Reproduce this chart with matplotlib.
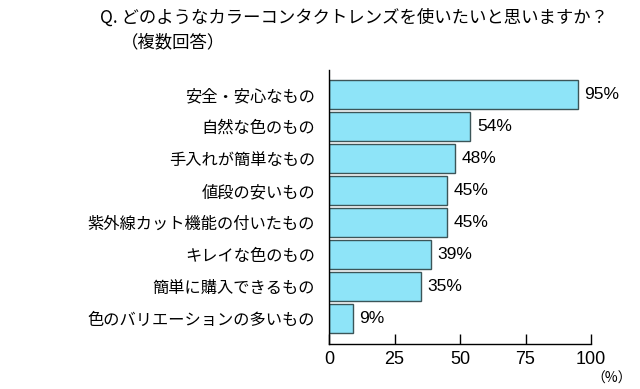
import matplotlib
matplotlib.use("Agg")
import matplotlib.pyplot as plt

plt.rcParams['font.family'] = ['Noto Sans CJK JP', 'DejaVu Sans']

categories = ["安全・安心なもの", "自然な色のもの", "手入れが簡単なもの", "値段の安いもの",
              "紫外線カット機能の付いたもの", "キレイな色のもの", "簡単に購入できるもの",
              "色のバリエーションの多いもの"]
values = [95, 54, 48, 45, 45, 39, 35, 9]
xticks = [0, 25, 50, 75, 100]

num_font = ['Liberation Sans', 'DejaVu Sans']

fig = plt.figure(figsize=(6.4, 3.89), dpi=100)
ax = fig.add_axes([329/640, 1-344/389, (591-329)/640, (344-70)/389])

y = list(range(len(categories)))
ax.barh(y, values, height=0.9, color='#8EE4F8', edgecolor='#3C5558', linewidth=1.0)
ax.set_ylim(len(categories) - 0.2, -0.77)
ax.set_xlim(0, 100)
ax.set_yticks(y)
ax.set_yticklabels(categories, fontsize=11.7)
ax.tick_params(axis='y', length=0, pad=10)
ax.set_xticks(xticks)
ax.set_xticklabels([str(t) for t in xticks], fontsize=13, family=num_font)
ax.tick_params(axis='x', direction='in', length=7, width=1, pad=5)
for s in ['top', 'right']:
    ax.spines[s].set_visible(False)
for s in ['left', 'bottom']:
    ax.spines[s].set_linewidth(1.0)
    ax.spines[s].set_color('black')

for yi, v in zip(y, values):
    ax.text(v + 2.5, yi, f"{v}%", va='center', ha='left', fontsize=12.5, family=num_font)

fig.text(100/640, 1-18/389, "Q. どのようなカラーコンタクトレンズを使いたいと思いますか？",
         fontsize=12.5, va='center', ha='left')
fig.text(121/640, 1-42/389, "（複数回答）", fontsize=12.5, va='center', ha='left')
fig.text(632/640, 1-379/389, "（%）", fontsize=10, va='center', ha='right')

fig.savefig("out.png", dpi=100)
